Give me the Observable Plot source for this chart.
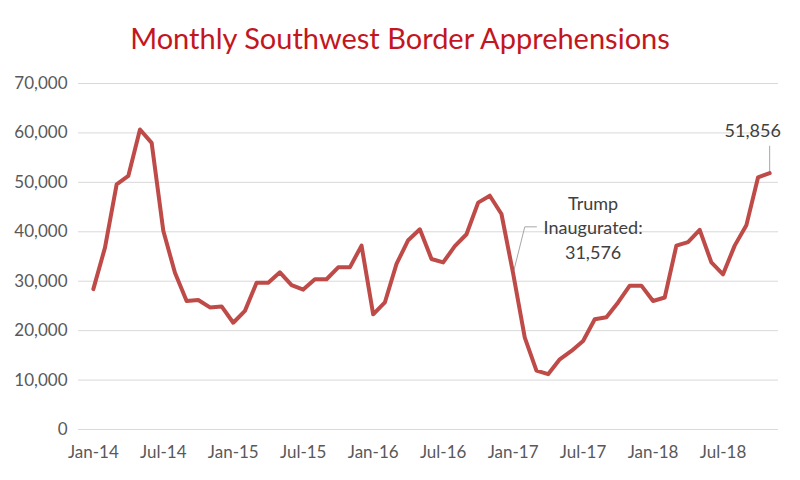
<!DOCTYPE html>
<html>
<head>
<meta charset="utf-8">
<script src="https://cdn.jsdelivr.net/npm/d3@7"></script>
<script src="https://cdn.jsdelivr.net/npm/@observablehq/plot@0.6"></script>
<style>
  html, body { margin: 0; padding: 0; background: #fff; }
  #wrap { width: 800px; height: 480px; overflow: hidden; }
  #title { box-sizing: border-box; height: 62px; padding-top: 23px; text-align: center;
           font-family: Lato, "Open Sans", sans-serif; font-size: 29px; line-height: 1; color: #C3161E; }
</style>
</head>
<body>
<div id="wrap">
  <div id="title">Monthly Southwest Border Apprehensions</div>
  <div id="chart"></div>
</div>
<script>
// Categories (months)
const monthNames = ["Jan","Feb","Mar","Apr","May","Jun","Jul","Aug","Sep","Oct","Nov","Dec"];
const years = ["14","15","16","17","18"];
const months = [];
for (const y of years) for (const m of monthNames) months.push(`${m}-${y}`);
months.splice(59); // Jan-14 .. Nov-18

// Monthly apprehensions
const values = [
  28400, 36800, 49600, 51300, 60700, 58000, 40200, 31700, 26000, 26200, 24700, 24900,
  21600, 24000, 29700, 29700, 31800, 29200, 28300, 30400, 30400, 32800, 32800, 37200,
  23300, 25700, 33500, 38300, 40500, 34500, 33800, 37100, 39500, 45900, 47300, 43600,
  31576, 18600, 11900, 11200, 14200, 15900, 17900, 22300, 22700, 25700, 29100, 29100,
  26000, 26700, 37200, 37900, 40400, 33800, 31400, 37200, 41300, 51000, 51856
];

const xTickLabels = ["Jan-14","Jul-14","Jan-15","Jul-15","Jan-16","Jul-16","Jan-17","Jul-17","Jan-18","Jul-18"];
const yTickValues = [0, 10000, 20000, 30000, 40000, 50000, 60000, 70000];

// Annotations
const trumpNote = [{month: "Jan-17", value: 31576, text: "Trump\nInaugurated:\n31,576"}];
const trumpLeader = [
  {month: "Jan-17", value: 31576},
  {month: "Feb-17", value: 41000},
  {month: "Mar-17", value: 41000}
];
const lastNote = [{month: "Nov-18", value: 51856, text: "51,856", top: 57400}];

const data = months.map((m, i) => ({month: m, value: values[i]}));

const chart = Plot.plot({
  width: 800,
  height: 418,
  marginTop: 21,
  marginBottom: 51,
  marginLeft: 87,
  marginRight: 25,
  style: {fontFamily: "Lato, 'Open Sans', sans-serif", fontSize: "17px", color: "#595959", background: "#fff"},
  x: {type: "point", domain: months, padding: 0.5},
  y: {domain: [0, 70000]},
  marks: [
    Plot.ruleY(yTickValues, {stroke: "#d9d9d9", strokeWidth: 1, insetLeft: -9, insetRight: -3}),
    Plot.axisY({ticks: yTickValues, tickSize: 0, tickPadding: 20, tickFormat: d3.format(","), label: null, fontSize: 17}),
    Plot.axisX({ticks: xTickLabels, tickSize: 0, tickPadding: 16, label: null, fontSize: 17}),
    Plot.line(trumpLeader, {x: "month", y: "value", stroke: "#a6a6a6", strokeWidth: 1}),
    Plot.link(lastNote, {x1: "month", x2: "month", y1: "value", y2: "top", stroke: "#a6a6a6", strokeWidth: 1}),
    Plot.line(data, {x: "month", y: "value", stroke: "#BE4B48", strokeWidth: 4, strokeLinejoin: "round", strokeLinecap: "round"}),
    Plot.text(trumpNote, {x: "month", y: "value", text: "text", dx: 80, dy: -47, lineHeight: 1.36, fill: "#404040", fontSize: 18}),
    Plot.text(lastNote, {x: "month", y: "value", text: "text", dx: -17, dy: -42, fill: "#404040", fontSize: 18})
  ]
});
document.getElementById("chart").appendChild(chart);
</script>
</body>
</html>
